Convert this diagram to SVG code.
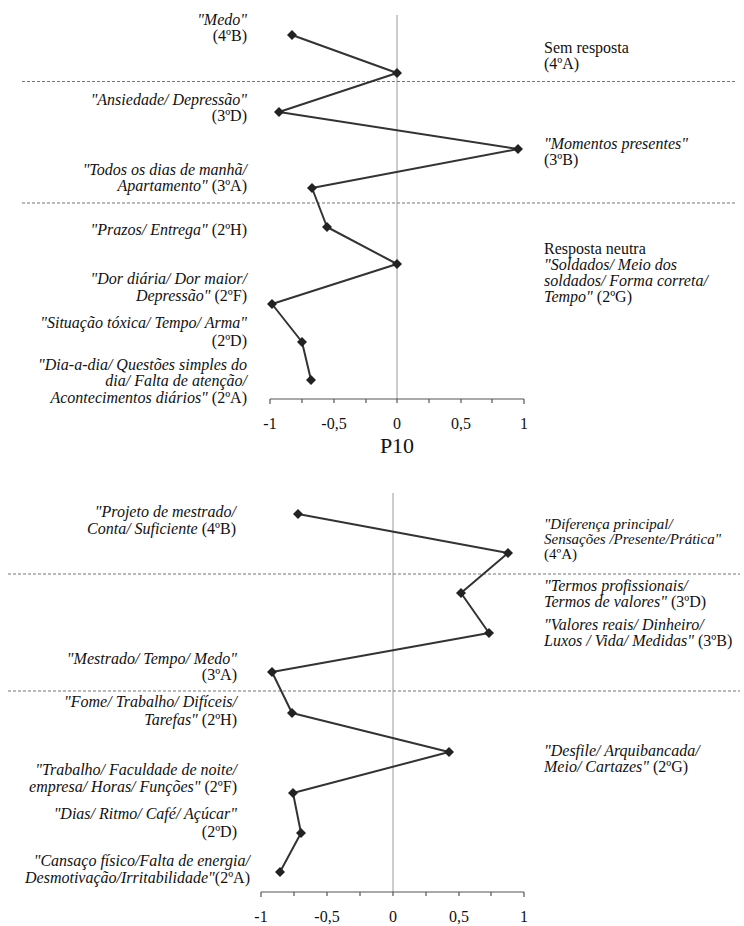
<svg xmlns="http://www.w3.org/2000/svg" width="744" height="926" viewBox="0 0 744 926" font-family="'Liberation Serif', 'DejaVu Serif', serif">
<style>
text{font-family:'Liberation Serif','DejaVu Serif',serif;font-size:16px;fill:#111}
.i{font-style:italic}
.r{text-anchor:end}
.m{text-anchor:middle}
.tk{font-size:16px;text-anchor:middle}
.grid{stroke:#9a9a9a;stroke-width:1;fill:none}
.dash{stroke:#777;stroke-width:1.2;stroke-dasharray:3,2;fill:none}
.axis{stroke:#555;stroke-width:1.2;fill:none}
.series{stroke:#333;stroke-width:2;fill:none;stroke-linejoin:round}
.pt{fill:#222}
.tight{font-size:15px}
</style>
<defs>
<path id="dm" d="M0,-5 L5,0 L0,5 L-5,0 Z"/>
</defs>

<!-- ===== TOP CHART ===== -->
<g id="top-grid">
<line class="grid" x1="397" y1="15" x2="397" y2="399"/>
<line class="dash" x1="22" y1="81.5" x2="735" y2="81.5"/>
<line class="dash" x1="22" y1="203" x2="735" y2="203"/>
</g>
<g id="top-axis">
<line class="axis" x1="270" y1="399" x2="524" y2="399"/>
<path class="axis" d="M270,399v5M302,399v4M334,399v4M366,399v4M397,399v4M429,399v4M461,399v4M492,399v4M524,399v5"/>
<text class="tk" x="270" y="429">-1</text>
<text class="tk" x="334" y="429">-0,5</text>
<text class="tk" x="397" y="429">0</text>
<text class="tk" x="461" y="429">0,5</text>
<text class="tk" x="524" y="429">1</text>
<text class="m" x="397" y="453" style="font-size:22px">P10</text>
</g>
<g id="top-connectors">
<polyline class="series" points="292,35 397,73 279,112 518,149 312,188 327,227 397,264 272,304 302,342 311,380"/>
</g>
<g id="top-4B"><use href="#dm" class="pt" x="292" y="35"/>
<text class="r" x="247" y="25"><tspan class="i">"Medo"</tspan></text>
<text class="r" x="247" y="41">(4ºB)</text></g>
<g id="top-4A"><use href="#dm" class="pt" x="397" y="73"/>
<text x="544" y="53">Sem resposta</text>
<text x="544" y="69">(4ºA)</text></g>
<g id="top-3D"><use href="#dm" class="pt" x="279" y="112"/>
<text class="r" x="247" y="105"><tspan class="i">"Ansiedade/ Depressão"</tspan></text>
<text class="r" x="247" y="121">(3ºD)</text></g>
<g id="top-3B"><use href="#dm" class="pt" x="518" y="149"/>
<text x="544" y="149" class="i">"Momentos presentes"</text>
<text x="544" y="165">(3ºB)</text></g>
<g id="top-3A"><use href="#dm" class="pt" x="312" y="188"/>
<text class="r" x="247" y="175"><tspan class="i">"Todos os dias de manhã/</tspan></text>
<text class="r" x="247" y="191"><tspan class="i">Apartamento"</tspan> (3ºA)</text></g>
<g id="top-2H"><use href="#dm" class="pt" x="327" y="227"/>
<text class="r" x="247" y="235"><tspan class="i">"Prazos/ Entrega"</tspan> (2ºH)</text></g>
<g id="top-2G"><use href="#dm" class="pt" x="397" y="264"/>
<text x="544" y="254">Resposta neutra</text>
<text x="544" y="270" class="i">"Soldados/ Meio dos</text>
<text x="544" y="286" class="i">soldados/ Forma correta/</text>
<text x="544" y="302"><tspan class="i">Tempo"</tspan> (2ºG)</text></g>
<g id="top-2F"><use href="#dm" class="pt" x="272" y="304"/>
<text class="r" x="247" y="284"><tspan class="i">"Dor diária/ Dor maior/</tspan></text>
<text class="r" x="247" y="301"><tspan class="i">Depressão"</tspan> (2ºF)</text></g>
<g id="top-2D"><use href="#dm" class="pt" x="302" y="342"/>
<text class="r" x="247" y="328"><tspan class="i">"Situação tóxica/ Tempo/ Arma"</tspan></text>
<text class="r" x="247" y="346">(2ºD)</text></g>
<g id="top-2A"><use href="#dm" class="pt" x="311" y="380"/>
<text class="r" x="247" y="370"><tspan class="i">"Dia-a-dia/ Questões simples do</tspan></text>
<text class="r" x="247" y="386"><tspan class="i">dia/ Falta de atenção/</tspan></text>
<text class="r" x="247" y="403"><tspan class="i">Acontecimentos diários"</tspan> (2ºA)</text></g>

<!-- ===== BOTTOM CHART ===== -->
<g id="bottom-grid">
<line class="grid" x1="393" y1="493" x2="393" y2="892"/>
<line class="dash" x1="8" y1="574" x2="740" y2="574"/>
<line class="dash" x1="8" y1="691" x2="740" y2="691"/>
</g>
<g id="bottom-axis">
<line class="axis" x1="261" y1="892" x2="524" y2="892"/>
<path class="axis" d="M261,892v5M294,892v4M327,892v4M360,892v4M393,892v4M426,892v4M459,892v4M491,892v4M524,892v5"/>
<text class="tk" x="261" y="922">-1</text>
<text class="tk" x="327" y="922">-0,5</text>
<text class="tk" x="393" y="922">0</text>
<text class="tk" x="459" y="922">0,5</text>
<text class="tk" x="524" y="922">1</text>
</g>
<g id="bottom-connectors">
<polyline class="series" points="298,514 508,553 461,593 489,633 272,672 292,713 449,752 293,793 301,833 280,872"/>
</g>
<g id="bot-4B"><use href="#dm" class="pt" x="298" y="514"/>
<text class="r" x="236" y="517"><tspan class="i">"Projeto de mestrado/</tspan></text>
<text class="r" x="236" y="534"><tspan class="i">Conta/ Suficiente</tspan> (4ºB)</text></g>
<g id="bot-4A"><use href="#dm" class="pt" x="508" y="553"/>
<text x="544" y="529" class="i tight">"Diferença principal/</text>
<text x="544" y="544" class="i tight">Sensações /Presente/Prática"</text>
<text x="544" y="559" class="tight">(4ºA)</text></g>
<g id="bot-3D"><use href="#dm" class="pt" x="461" y="593"/>
<text x="544" y="591" class="i">"Termos profissionais/</text>
<text x="544" y="607"><tspan class="i">Termos de valores"</tspan> (3ºD)</text></g>
<g id="bot-3B"><use href="#dm" class="pt" x="489" y="633"/>
<text x="544" y="630" class="i">"Valores reais/ Dinheiro/</text>
<text x="544" y="646"><tspan class="i">Luxos / Vida/ Medidas"</tspan> (3ºB)</text></g>
<g id="bot-3A"><use href="#dm" class="pt" x="272" y="672"/>
<text class="r" x="237" y="664"><tspan class="i">"Mestrado/ Tempo/ Medo"</tspan></text>
<text class="r" x="237" y="680">(3ºA)</text></g>
<g id="bot-2H"><use href="#dm" class="pt" x="292" y="713"/>
<text class="r" x="237" y="707"><tspan class="i">"Fome/ Trabalho/ Difíceis/</tspan></text>
<text class="r" x="237" y="725"><tspan class="i">Tarefas"</tspan> (2ºH)</text></g>
<g id="bot-2G"><use href="#dm" class="pt" x="449" y="752"/>
<text x="544" y="756" class="i">"Desfile/ Arquibancada/</text>
<text x="544" y="772"><tspan class="i">Meio/ Cartazes"</tspan> (2ºG)</text></g>
<g id="bot-2F"><use href="#dm" class="pt" x="293" y="793"/>
<text class="r" x="237" y="775"><tspan class="i">"Trabalho/ Faculdade de noite/</tspan></text>
<text class="r" x="237" y="792"><tspan class="i">empresa/ Horas/ Funções"</tspan> (2ºF)</text></g>
<g id="bot-2D"><use href="#dm" class="pt" x="301" y="833"/>
<text class="r" x="237" y="819"><tspan class="i">"Dias/ Ritmo/ Café/ Açúcar"</tspan></text>
<text class="r" x="237" y="837">(2ºD)</text></g>
<g id="bot-2A"><use href="#dm" class="pt" x="280" y="872"/>
<text class="r" x="250" y="866"><tspan class="i">"Cansaço físico/Falta de energia/</tspan></text>
<text class="r" x="250" y="883"><tspan class="i">Desmotivação/Irritabilidade"</tspan>(2ºA)</text></g>
</svg>
